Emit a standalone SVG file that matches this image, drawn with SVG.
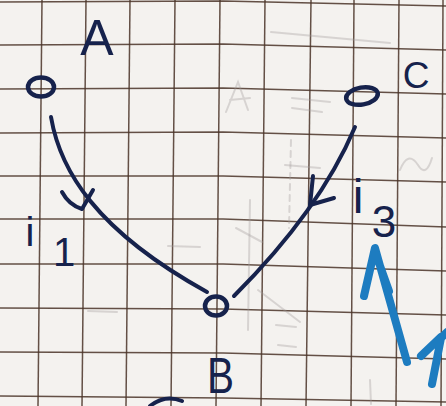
<svg xmlns="http://www.w3.org/2000/svg" width="446" height="406" viewBox="0 0 446 406">
  <defs>
    <style>
      .grid { stroke: #4a3428; stroke-width: 1.5; fill: none; opacity: 0.85; }
      .ghost { stroke: #a09c9c; stroke-width: 2; fill: none; opacity: 0.35; stroke-linecap: round; }
      .ink { stroke: #16224c; stroke-width: 4; fill: none; stroke-linecap: round; stroke-linejoin: round; }
      .node { stroke: #16224c; stroke-width: 4.5; fill: none; }
      .blue { stroke: #1d7cc0; stroke-width: 8; fill: none; stroke-linecap: round; stroke-linejoin: round; }
      .lbl { fill: #16224c; font-family: "Liberation Sans", "DejaVu Sans", sans-serif; }
    </style>
  </defs>
  <rect width="446" height="406" fill="#f4f2ef"/>
  <g id="grid">
    <path class="grid" d="M0,2 L223,1 L446,6"/>
    <path class="grid" d="M0,45 L223,44 L446,50"/>
    <path class="grid" d="M0,89 L223,88 L446,94"/>
    <path class="grid" d="M0,133 L223,132 L446,138"/>
    <path class="grid" d="M0,176 L223,176 L446,182"/>
    <path class="grid" d="M0,219 L223,219 L446,227"/>
    <path class="grid" d="M0,264 L223,264 L446,271"/>
    <path class="grid" d="M0,308 L223,309 L446,315"/>
    <path class="grid" d="M0,352 L223,353 L446,359"/>
    <path class="grid" d="M0,396 L223,398 L446,402"/>
    <path class="grid" d="M42,0 L38,406"/>
    <path class="grid" d="M86,0 L82,406"/>
    <path class="grid" d="M130,0 L126,406"/>
    <path class="grid" d="M175,0 L171,406"/>
    <path class="grid" d="M220,0 L216,406"/>
    <path class="grid" d="M265,0 L261,406"/>
    <path class="grid" d="M311,0 L306,406"/>
    <path class="grid" d="M354,0 L351,406"/>
    <path class="grid" d="M399,0 L396,406"/>
    <path class="grid" d="M443,0 L441,406"/>
  </g>
  <g id="erased-marks">
    <path class="ghost" d="M271,32 L390,43"/>
    <path class="ghost" d="M226,112 L238,82 L248,110 M230,100 L250,98"/>
    <path class="ghost" d="M292,98 L330,102 M292,108 L322,112"/>
    <path class="ghost" d="M291,140 L289,228" stroke-dasharray="6 5"/>
    <path class="ghost" d="M285,165 L320,168"/>
    <path class="ghost" d="M400,170 Q408,150 418,165 Q426,178 432,158"/>
    <path class="ghost" d="M168,246 L200,247 M88,311 L117,312"/>
    <path class="ghost" d="M250,200 L248,330"/>
    <path class="ghost" d="M236,228 L262,242 M258,290 L300,322"/>
    <path class="ghost" d="M276,325 L296,327 M278,345 L296,347"/>
    <path class="ghost" d="M370,380 L371,404"/>
  </g>
  <g id="connectors">
    <path class="ink" d="M51,117 C60,170 95,230 207,292"/>
    <path class="ink" d="M62,192 Q69,205 82,209 L93,190"/>
    <path class="ink" d="M355,127 Q320,210 234,296"/>
    <path class="ink" d="M313,176 L310,205 L334,198"/>
    <text class="lbl" x="30" y="246" font-size="40" text-anchor="middle">i</text>
    <text class="lbl" x="64" y="266" font-size="40" text-anchor="middle">1</text>
    <text class="lbl" x="358" y="213" font-size="48" text-anchor="middle">i</text>
    <text class="lbl" x="384" y="237" font-size="44" text-anchor="middle">3</text>
    <path class="blue" d="M407,362 L375,248 L364,296 M379,263 L389,291"/>
    <path class="blue" d="M432,384 L441,338 L447,332 M421,356 L441,337"/>
    <path class="ink" d="M150,406 Q165,394 182,401"/>
  </g>
  <g id="node-A">
    <ellipse class="node" cx="41" cy="87" rx="13" ry="9.5"/>
    <text class="lbl" x="97" y="55" font-size="50" text-anchor="middle">A</text>
  </g>
  <g id="node-C">
    <ellipse class="node" cx="362" cy="96" rx="16" ry="8.5" transform="rotate(-10 362 96)"/>
    <text class="lbl" x="416" y="88" font-size="37" text-anchor="middle">C</text>
  </g>
  <g id="node-B">
    <ellipse class="node" cx="216" cy="306" rx="11" ry="9.5"/>
    <text class="lbl" x="207" y="393" font-size="50" textLength="27" lengthAdjust="spacingAndGlyphs">B</text>
  </g>
</svg>
